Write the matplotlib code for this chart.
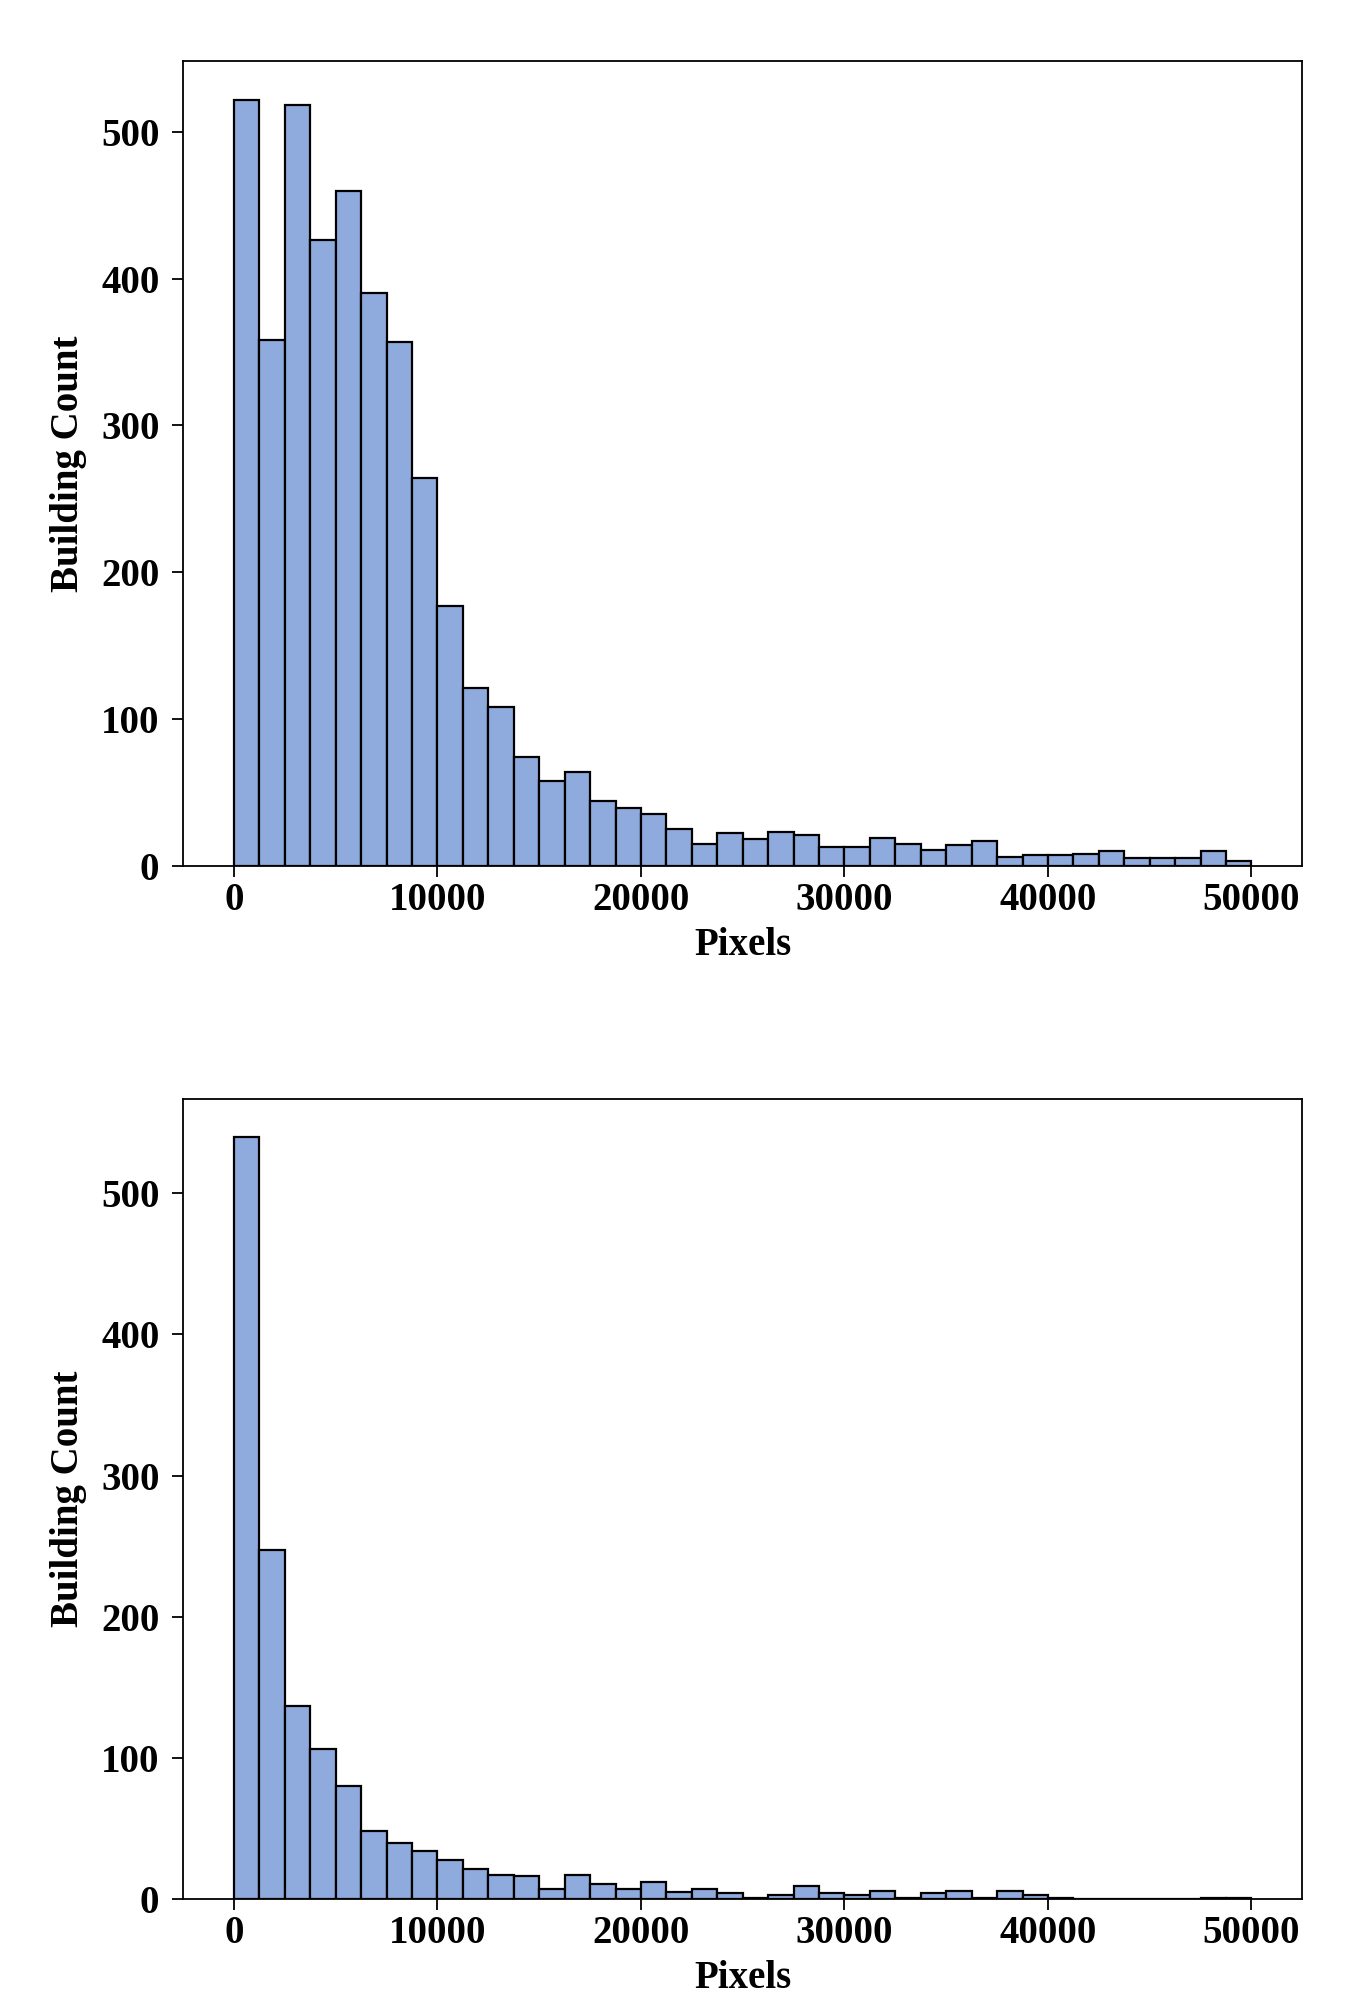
from matplotlib import pyplot as plt
import numpy as np

# counts per bin, 40 bins from 0 to 50000 pixels
bin_start = 0
bin_stop = 50000
n_bins = 40

counts_top = [522, 358, 518, 426, 460, 390, 357, 264, 177, 121,
              108, 74, 58, 64, 44, 39, 35, 25, 15, 22,
              18, 23, 21, 13, 13, 19, 15, 11, 14, 17,
              6, 7, 7, 8, 10, 5, 5, 5, 10, 3]

counts_bottom = [540, 247, 137, 106, 80, 48, 40, 34, 28, 21,
                 17, 16, 7, 17, 11, 7, 12, 5, 7, 4,
                 1, 3, 9, 4, 3, 6, 1, 4, 6, 1,
                 6, 3, 1, 0, 0, 0, 0, 0, 1, 1]

xticks = [0, 10000, 20000, 30000, 40000, 50000]
yticks = [0, 100, 200, 300, 400, 500]

plt.rcParams['font.family'] = ['Liberation Serif', 'DejaVu Serif']
plt.rcParams['font.weight'] = 'bold'

fig = plt.figure(figsize=(13.6, 20.16), dpi=100)
ax1 = fig.add_axes([0.1346, 0.5706, 0.823, 0.399])
ax2 = fig.add_axes([0.1346, 0.058, 0.823, 0.397])

edges = np.linspace(bin_start, bin_stop, n_bins + 1)
width = edges[1] - edges[0]

for ax, counts in [(ax1, counts_top), (ax2, counts_bottom)]:
	ax.bar(edges[:-1], counts, width=width, align='edge',
		   color='#8faadc', edgecolor='black', linewidth=1.6)
	ax.set_xticks(xticks)
	ax.set_yticks(yticks)
	ax.tick_params(labelsize=28, length=8, width=1.3, direction='out')
	ax.tick_params(axis='y', pad=9)
	for lab in ax.get_xticklabels() + ax.get_yticklabels():
		lab.set_fontweight('bold')
	for sp in ax.spines.values():
		sp.set_linewidth(1.3)
	ax.set_xlabel('Pixels', fontsize=28, fontweight='bold', labelpad=6)
	ax.set_ylabel('Building Count', fontsize=28, fontweight='bold', labelpad=10)

fig.savefig('out.png', dpi=100)
